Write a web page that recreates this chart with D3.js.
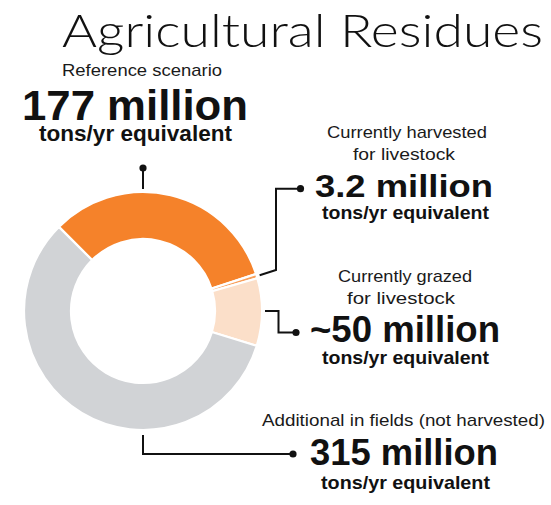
<!DOCTYPE html>
<html>
<head>
<meta charset="utf-8">
<script src="https://cdn.jsdelivr.net/npm/d3@7"></script>
<style>
  html, body { margin: 0; padding: 0; background: #fff; }
  svg { display: block; }
</style>
</head>
<body>
<svg id="chart" width="551" height="505"></svg>
<script>
// ---- data ----
const title = "Agricultural Residues";
const categories = ["Reference scenario", "Currently harvested for livestock", "Currently grazed for livestock", "Additional in fields (not harvested)"];
const categoryLines = [["Reference scenario"], ["Currently harvested", "for livestock"], ["Currently grazed", "for livestock"], ["Additional in fields (not harvested)"]];
const values = [177, 3.2, 50, 315];
const valueLabels = ["177 million", "3.2 million", "~50 million", "315 million"];
const unitLabel = "tons/yr equivalent";
const sliceColors = ["#F5822A", "#F8A05C", "#FBDFC9", "#D1D3D6"];

// ---- layout ----
const cx = 143, cy = 311, R = 119, r = 72;
const svg = d3.select("#chart");
const ink = "#111";

const pie = d3.pie().sort(null).value(d => d)
  .startAngle(-Math.PI / 4).endAngle(-Math.PI / 4 + 2 * Math.PI);
const arcs = pie(values);
const arc = d3.arc().innerRadius(r).outerRadius(R);

const g = svg.append("g").attr("transform", `translate(${cx},${cy})`);
g.selectAll("path").data(arcs).join("path")
  .attr("d", arc)
  .attr("fill", (d, i) => sliceColors[i])
  .attr("stroke", "#fff")
  .attr("stroke-width", 2.2);

// title
svg.append("text").text(title)
  .attr("x", 62).attr("y", 47)
  .attr("font-family", "'Lato', 'Open Sans', sans-serif")
  .attr("font-weight", 300)
  .attr("font-size", 45)
  .attr("fill", ink)
  .attr("textLength", 481).attr("lengthAdjust", "spacingAndGlyphs");

// text blocks layout
const blocks = [
  { cat: [{x: 62, y: 76, w: 160}], val: {x: 22, y: 120, w: 226, s: 42}, unit: {x: 39, y: 140.5, w: 193, s: 22} },
  { cat: [{x: 327, y: 138, w: 160}, {x: 353, y: 160, w: 102}], val: {x: 315, y: 197, w: 178, s: 32}, unit: {x: 322, y: 219, w: 167, s: 19} },
  { cat: [{x: 338, y: 282, w: 134}, {x: 347, y: 303.5, w: 108}], val: {x: 310, y: 342, w: 190, s: 36}, unit: {x: 322, y: 363.5, w: 167, s: 19} },
  { cat: [{x: 262, y: 426, w: 283}], val: {x: 310, y: 465, w: 188, s: 37}, unit: {x: 321, y: 488.5, w: 169, s: 19} }
];

const bodyFont = "'Liberation Sans', Arial, sans-serif";
blocks.forEach((b, i) => {
  categoryLines[i].forEach((line, j) => {
    const p = b.cat[j];
    svg.append("text").text(line)
      .attr("x", p.x).attr("y", p.y)
      .attr("font-family", bodyFont).attr("font-size", 17)
      .attr("fill", "#1a1a1a")
      .attr("textLength", p.w).attr("lengthAdjust", "spacingAndGlyphs");
  });
  svg.append("text").text(valueLabels[i])
    .attr("x", b.val.x).attr("y", b.val.y)
    .attr("font-family", bodyFont).attr("font-weight", 900).attr("font-size", b.val.s)
    .attr("fill", ink)
    .attr("textLength", b.val.w).attr("lengthAdjust", "spacingAndGlyphs");
  svg.append("text").text(unitLabel)
    .attr("x", b.unit.x).attr("y", b.unit.y)
    .attr("font-family", bodyFont).attr("font-weight", 700).attr("font-size", b.unit.s)
    .attr("fill", ink)
    .attr("textLength", b.unit.w).attr("lengthAdjust", "spacingAndGlyphs");
});

// leader lines
const midAngle = d => (d.startAngle + d.endAngle) / 2;
const polar = (a, rad) => [cx + rad * Math.sin(a), cy - rad * Math.cos(a)];

const a1 = midAngle(arcs[1]);
const p1a = polar(a1, R + 3), p1b = polar(a1, R + 21);
const leaders = [
  [[cx, cy - R - 3], [cx, 168]],
  [p1a, [276, p1b[1]], [276, 188.7], [300.5, 188.7]],
  [[cx + R + 3, cy], [278.5, cy], [278.5, 332.5], [296, 332.5]],
  [[cx, cy + R + 5], [cx, 454], [293, 454]]
];
const line = d3.line();
leaders.forEach(pts => {
  svg.append("path").attr("d", line(pts))
    .attr("fill", "none").attr("stroke", ink).attr("stroke-width", 2);
  const end = pts[pts.length - 1];
  svg.append("circle").attr("cx", end[0]).attr("cy", end[1]).attr("r", 3.6).attr("fill", ink);
});
</script>
</body>
</html>
